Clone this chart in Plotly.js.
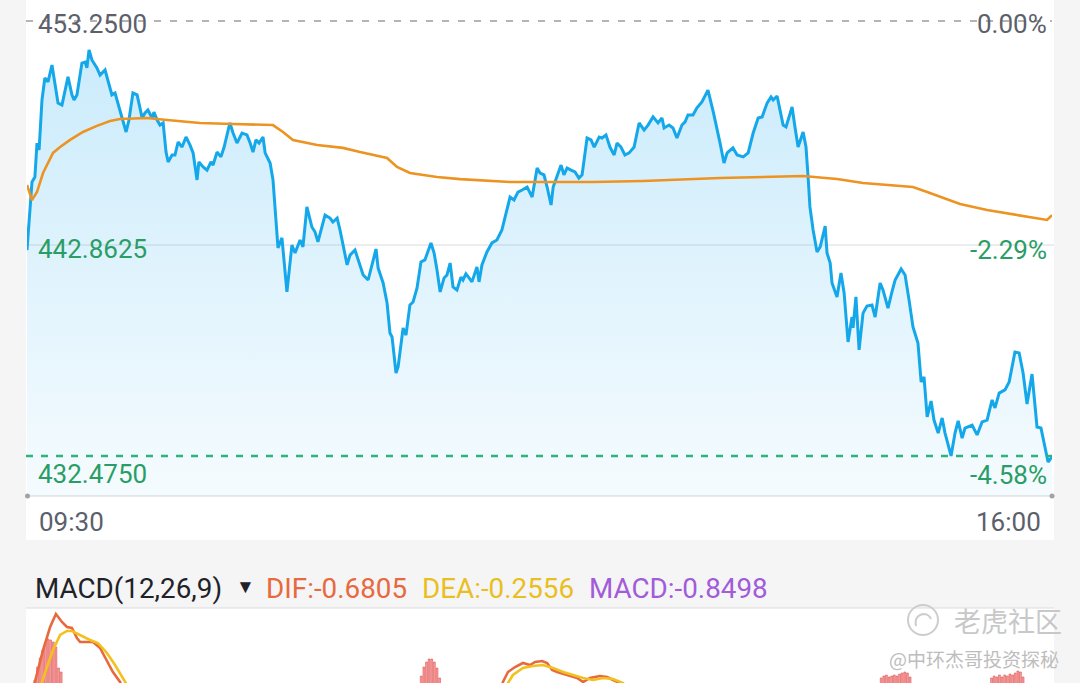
<!DOCTYPE html>
<html>
<head>
<meta charset="utf-8">
<script src="https://cdn.plot.ly/plotly-3.0.1.min.js"></script>
<style>
  html, body { margin: 0; padding: 0; background: #f5f5f6; }
  #chart { width: 1080px; height: 683px; }
</style>
</head>
<body>
<div id="chart"></div>
<script>
// ---- data (minutes after 09:30 open) ----
const prevClose = 453.25;
const dayLow = 432.475;
const midPrice = 442.8625;

const priceTime = [0,1.9,3,3.8,4.6,5.7,6.8,8,9.5,10.7,11.8,13.3,14.5,15.6,17.1,17.9,19,20.9,22.1,22.8,23.6,24.7,26.6,27.8,29.7,30.8,32.3,33.5,34.6,36.1,37.7,38.8,40.3,41.9,43,43.8,44.9,46,47.6,48.3,49.5,50.6,51.8,52.9,53.7,55.2,56.3,57.5,59,60.5,62,63.2,64.7,65.4,67,68.5,70,70.8,72.3,73.8,75,77.2,78.4,79.9,81.8,83.7,84.9,86,87.1,88.3,89.8,90.6,92.5,93.6,95.5,97,98.9,100.8,102,103.9,105,106.5,108.4,109.6,110.7,113.4,115.3,116.4,118,119.1,121.8,122.9,124.8,126,127.9,129.8,132.8,133.6,135.5,137,138.1,138.9,140.4,141.2,143.1,144.2,145.7,146.9,148.4,149.9,151.4,153.7,154.9,156,157.2,158.7,159.8,161,162.1,163.6,165.1,165.9,167,168.2,169.3,171.2,172,173.1,175,176.9,178.8,180.7,181.9,183,183.8,185.3,186.8,188.4,190.3,192.2,194.1,195.2,196.7,197.9,199.4,200.2,201.7,203.2,204.3,205.5,207,208.5,210,211.2,213.1,214.6,215.8,217.7,218.8,220.3,221.8,223.4,224.5,226,227.5,229.1,231,232.9,234.8,236.3,238.2,240.1,241.6,242.4,244.3,245.8,247.3,249.2,250.4,251.5,253.4,254.9,256.8,259.1,261.2,262.6,263.7,265.2,266.4,268.6,270.2,272.5,274.4,276.3,278.2,279.7,281.6,283.1,283.9,285.4,286.5,287.7,288.8,291.1,292.2,293.4,295.3,296.4,297.2,297.9,299.1,300.6,301.8,303.7,304.4,305.6,306.3,308.2,309.7,310.9,312.4,313.9,314.3,315.4,316.6,318.1,319.6,321.5,322.7,324.6,325.7,327.6,329.1,330.3,332.6,334.1,335.6,337.1,339,340.2,341.3,342.5,344,345.1,346.7,348.2,349.3,351.6,353.1,354.3,355.8,356.9,359.6,361.5,363.4,365.3,367.2,368.3,369.9,372.1,373.7,375.9,377.5,379,380.5,382.4,384.3,385.8,388.5,390];
const priceValue = [442.31,445.56,445.80,447.42,447.09,449.48,450.53,450.34,451.15,450.29,449.33,449.24,449.95,450.58,449.72,449.48,449.72,451.24,451.29,451.01,451.87,451.39,451.01,450.67,450.91,450.43,449.72,449.81,449.33,448.67,447.95,448.52,449.81,449.72,449.00,448.62,448.86,449.00,448.62,448.90,448.52,448.28,448.38,446.99,446.52,446.85,446.85,447.47,447.23,447.71,447.33,446.95,445.66,446.52,446.28,446.13,446.52,446.37,446.99,446.76,447.23,448.38,447.90,447.42,447.90,447.81,447.42,446.99,447.57,447.42,447.71,446.95,446.47,445.66,442.41,442.89,440.31,442.55,442.17,442.79,442.46,444.37,443.41,443.17,442.70,443.98,443.84,443.65,443.84,443.27,441.60,442.07,442.31,441.84,441.12,440.88,442.36,441.45,440.74,439.78,438.35,438.16,436.44,436.73,438.59,438.25,439.69,439.83,440.50,441.74,441.84,442.65,442.17,441.36,440.31,440.98,441.12,441.69,440.55,440.40,441.02,440.88,441.17,440.98,440.79,441.50,440.79,441.60,442.22,442.65,442.79,443.27,443.89,444.32,444.84,444.70,445.08,445.18,445.32,444.84,446.23,445.99,445.90,445.32,444.46,445.32,445.90,446.37,445.90,446.23,446.13,446.04,445.75,445.90,447.66,447.57,447.23,447.71,447.66,447.81,447.23,446.85,447.42,447.23,446.85,446.95,447.23,448.38,448.04,448.28,448.67,448.38,448.62,448.14,448.28,448.14,447.66,448.28,448.43,448.76,448.76,449.10,449.38,449.95,448.86,447.95,447.42,446.47,446.95,447.19,446.85,446.76,446.95,447.90,448.62,448.67,449.33,449.62,449.48,449.67,449.00,448.28,448.19,449.14,448.19,447.23,447.95,447.23,445.80,444.37,443.27,442.22,442.46,443.46,442.17,441.69,440.74,440.07,441.22,440.26,437.92,439.11,438.59,440.07,437.54,439.30,439.64,439.69,439.11,440.74,440.40,439.54,440.31,440.88,441.41,441.12,439.93,438.64,437.87,436.01,436.25,434.34,435.10,434.19,433.57,434.29,433.57,432.48,433.57,434.15,433.33,433.81,433.95,433.48,434.10,434.19,435.15,434.77,435.48,435.63,436.01,437.44,437.39,436.44,434.96,436.39,433.86,433.81,432.19,432.43];

const avgTime = [0,1.9,3.8,6.1,9.9,12.6,16.4,21.3,26.6,31.6,35.4,45.7,53.3,65.8,78.4,93.6,97.4,101.2,110.4,120.2,126.7,137,140.8,145.7,156,164.8,183.8,196.3,215.4,234.4,253.4,263.7,295.3,308.2,318.1,337.1,342.5,355,365.3,377.9,388.1,390];
const avgValue = [445.42,444.70,445.08,445.99,446.95,447.23,447.57,447.95,448.24,448.47,448.57,448.62,448.52,448.38,448.33,448.28,447.95,447.57,447.33,447.19,446.99,446.71,446.28,445.99,445.80,445.70,445.56,445.56,445.56,445.61,445.70,445.75,445.85,445.70,445.51,445.32,445.08,444.51,444.22,443.98,443.75,443.98];

// MACD panel (only the top of the panel is visible)
const difTime = [2.3,3.0,6.1,8.8,11.0,13.3,15.2,17.1,19.0,20.2,23.2,25.1,27.8,30.4,32.7,35.4,36.9,null,180.0,181.1,183.0,185.7,188.7,191.4,193.3,196.0,197.9,199.8,201.7,205.5,209.3,211.6,214.2,218.0,220.7,223.0,225.6,227.5];
const difValue = [0.21,0.31,0.63,0.86,0.99,0.91,0.86,0.85,0.75,0.71,0.71,0.71,0.65,0.53,0.41,0.31,0.23,null,0.21,0.31,0.41,0.46,0.50,0.48,0.51,0.52,0.50,0.43,0.41,0.38,0.35,0.31,0.35,0.37,0.36,0.33,0.30,0.23];
const deaTime = [4.9,5.7,7.6,9.9,12.6,15.2,17.1,20.2,24.0,27.0,30.4,33.5,36.5,38.1,39.2,null,182.0,183.0,184.9,188.7,192.5,196.3,200.2,204.0,207.8,211.6,215.4,219.2,223.0,226.8,228.7];
const deaValue = [0.21,0.31,0.46,0.63,0.78,0.82,0.82,0.78,0.73,0.70,0.60,0.48,0.36,0.30,0.23,null,0.21,0.30,0.38,0.45,0.47,0.48,0.45,0.41,0.38,0.35,0.33,0.35,0.34,0.30,0.23];
const barTime = [3,4,5,6,7,8,9,10,11,12,13, 150,151,152,153,154,155,156,157, 325,326,327,328,329,330,331,332,333,334,335,336, 367,368,369,370,371,372,373,374,375,376,377,378,379];
const barValue = [0.33,0.46,0.55,0.63,0.70,0.74,0.73,0.71,0.66,0.45,0.41, 0.37,0.46,0.51,0.54,0.54,0.51,0.45,0.35, 0.35,0.37,0.38,0.36,0.37,0.38,0.37,0.39,0.40,0.41,0.40,0.36, 0.35,0.37,0.36,0.38,0.36,0.38,0.37,0.39,0.38,0.40,0.42,0.41,0.36];

const leftLabels = ['453.2500', '442.8625', '432.4750'];
const rightLabels = ['0.00%', '-2.29%', '-4.58%'];
const timeLabels = ['09:30', '16:00'];
const macdHeader = {name: 'MACD(12,26,9)', dif: 'DIF:-0.6805', dea: 'DEA:-0.2556', macd: 'MACD:-0.8498'};

// ---- layout helpers (pixel -> paper) ----
const W = 1080, H = 683, L = 27, R = 28;
const PW = W - L - R;
const px = x => (x - L) / PW;
const py = y => 1 - y / H;

const GRAY = '#5b606b', GREEN = '#2a9d66';

const traces = [
  {
    x: priceTime, y: priceValue, type: 'scatter', mode: 'lines',
    line: {color: '#14a8ea', width: 3},
    fill: 'tozeroy',
    fillgradient: {type: 'vertical', start: 430.56, stop: 452,
      colorscale: [[0, 'rgba(110,200,245,0.07)'], [1, 'rgba(110,200,245,0.36)']]},
    hoverinfo: 'skip'
  },
  {
    x: avgTime, y: avgValue, type: 'scatter', mode: 'lines',
    line: {color: '#ec9322', width: 2.6}, hoverinfo: 'skip'
  },
  {
    x: barTime, y: barValue, type: 'bar', yaxis: 'y2', width: 0.7,
    marker: {color: '#f4a0a0', line: {color: '#e25252', width: 0.6}}, hoverinfo: 'skip'
  },
  {
    x: difTime, y: difValue, type: 'scatter', mode: 'lines', yaxis: 'y2',
    line: {color: '#e8693d', width: 2.6}, connectgaps: false, hoverinfo: 'skip'
  },
  {
    x: deaTime, y: deaValue, type: 'scatter', mode: 'lines', yaxis: 'y2',
    line: {color: '#f3c11d', width: 2.6}, connectgaps: false, hoverinfo: 'skip'
  }
];

const ann = (text, x, y, color, anchor, size, extra) => Object.assign({
  text: text, xref: 'paper', yref: 'paper', x: px(x), y: py(y),
  xanchor: anchor, yanchor: 'middle', showarrow: false,
  font: {family: 'Roboto, sans-serif', size: size, color: color}
}, extra || {});

const annotations = [
  ann(leftLabels[0], 36, 24, GRAY, 'left', 26),
  ann(leftLabels[1], 36, 249, GREEN, 'left', 26),
  ann(leftLabels[2], 36, 474, GREEN, 'left', 26),
  ann(rightLabels[0], 1049, 24, GRAY, 'right', 26),
  ann(rightLabels[1], 1049, 250, GREEN, 'right', 26),
  ann(rightLabels[2], 1049, 475, GREEN, 'right', 26),
  ann(timeLabels[0], 37, 522, GRAY, 'left', 26),
  ann(timeLabels[1], 1043, 522, GRAY, 'right', 26),
  ann(macdHeader.name, 33, 588, '#1f2329', 'left', 27.8),
  ann('▼', 234, 586, '#1f2329', 'left', 19),
  ann(macdHeader.dif, 264, 588, '#e8693d', 'left', 27.8),
  ann(macdHeader.dea, 420, 588, '#e9bf1f', 'left', 27.8),
  ann(macdHeader.macd, 587, 588, '#a25bd9', 'left', 27.8),
  ann('老虎社区', 952, 620, '#c9c9c9', 'left', 27, {font: {family: 'Noto Sans CJK SC', size: 27, color: '#c8c8c8'}}),
  ann('@中环杰哥投资探秘', 1061, 658, '#c2c2c2', 'right', 19, {font: {family: 'Noto Sans CJK SC', size: 19, color: '#bdbdbd'}})
];

const shapes = [
  // white main panel
  {type: 'rect', layer: 'below', xref: 'paper', yref: 'paper', x0: px(26), x1: px(1054), y0: py(540), y1: py(-2),
   fillcolor: '#ffffff', line: {width: 0}},
  // white MACD panel
  {type: 'rect', layer: 'below', xref: 'paper', yref: 'paper', x0: px(26), x1: px(1054), y0: py(690), y1: py(608),
   fillcolor: '#ffffff', line: {width: 0}},
  // separator under MACD header
  {type: 'line', layer: 'below', xref: 'paper', yref: 'paper', x0: px(26), x1: px(1054), y0: py(608), y1: py(608),
   line: {color: '#dcdcdc', width: 1.2}},
  // middle grid line
  {type: 'line', layer: 'below', xref: 'paper', yref: 'paper', x0: px(26), x1: px(1054), y0: py(245), y1: py(245),
   line: {color: '#d6dadd', width: 1}},
  // axis line
  {type: 'line', layer: 'below', xref: 'paper', yref: 'paper', x0: px(27), x1: px(1052), y0: py(496), y1: py(496),
   line: {color: '#e2e2e2', width: 1.5}},
  // previous close dashed line
  {type: 'line', layer: 'below', xref: 'paper', yref: 'y', x0: px(26), x1: px(1052), y0: prevClose, y1: prevClose,
   line: {color: '#b4b4b4', width: 2.2, dash: '7px,9px'}},
  // day low dashed line
  {type: 'line', layer: 'above', xref: 'paper', yref: 'y', x0: px(26), x1: px(1052), y0: dayLow, y1: dayLow,
   line: {color: '#2fb27b', width: 2.4, dash: '7px,8px'}},
  // end dots
  {type: 'circle', xref: 'paper', yref: 'paper', xsizemode: 'pixel', ysizemode: 'pixel',
   xanchor: px(27.5), yanchor: py(496), x0: -2.5, x1: 2.5, y0: -2.5, y1: 2.5, fillcolor: '#a3a3a3', line: {width: 0}},
  {type: 'circle', xref: 'paper', yref: 'paper', xsizemode: 'pixel', ysizemode: 'pixel',
   xanchor: px(1052), yanchor: py(496), x0: -2.5, x1: 2.5, y0: -2.5, y1: 2.5, fillcolor: '#a3a3a3', line: {width: 0}},
  // watermark logo
  {type: 'circle', xref: 'paper', yref: 'paper', xsizemode: 'pixel', ysizemode: 'pixel',
   xanchor: px(923), yanchor: py(620), x0: -15, x1: 15, y0: -15, y1: 15, fillcolor: 'rgba(0,0,0,0)', line: {color: '#cdcdcd', width: 2}},
  {type: 'path', xref: 'paper', yref: 'paper', xsizemode: 'pixel', ysizemode: 'pixel',
   xanchor: px(923), yanchor: py(620), path: 'M -7,-6 Q -9,4 0,6 Q 6,6 8,1', line: {color: '#cdcdcd', width: 2}}
];

const layout = {
  width: W, height: H,
  margin: {l: L, r: R, t: 0, b: 0, pad: 0},
  paper_bgcolor: '#f5f5f6', plot_bgcolor: 'rgba(0,0,0,0)',
  showlegend: false, bargap: 0,
  xaxis: {range: [0, 390], visible: false, fixedrange: true},
  yaxis: {range: [430.564, 454.253], domain: [py(496), 1], visible: false, fixedrange: true},
  yaxis2: {range: [0.30, 1.05], domain: [0, py(608)], visible: false, fixedrange: true},
  annotations: annotations,
  shapes: shapes
};

Plotly.newPlot('chart', traces, layout, {staticPlot: true, displayModeBar: false});
</script>
</body>
</html>
